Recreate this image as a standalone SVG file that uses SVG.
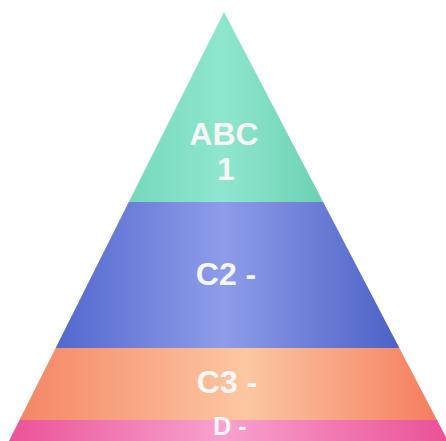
<svg xmlns="http://www.w3.org/2000/svg" width="446" height="441" viewBox="0 0 446 441">
<defs>
<clipPath id="pyr"><polygon points="224,12 9,441 448,441"/></clipPath>
<linearGradient id="gTeal" x1="0" y1="0" x2="1" y2="0">
<stop offset="0" stop-color="#4fc7a3"/><stop offset="0.5" stop-color="#8fe6cf"/><stop offset="1" stop-color="#3fb890"/>
</linearGradient>
<linearGradient id="gBlue" x1="0" y1="0" x2="1" y2="0">
<stop offset="0" stop-color="#3d57c4"/><stop offset="0.5" stop-color="#8e9ce9"/><stop offset="1" stop-color="#3a52bc"/>
</linearGradient>
<linearGradient id="gOrange" x1="0" y1="0" x2="1" y2="0">
<stop offset="0" stop-color="#f4805f"/><stop offset="0.55" stop-color="#fcc7a2"/><stop offset="1" stop-color="#f47a5c"/>
</linearGradient>
<linearGradient id="gPink" x1="0" y1="0" x2="1" y2="0">
<stop offset="0" stop-color="#ea4f95"/><stop offset="0.5" stop-color="#f7a2cf"/><stop offset="1" stop-color="#ea5196"/>
</linearGradient>
<style>
.lbl{font-family:"Liberation Sans",Arial,sans-serif;font-weight:bold;font-size:32px;fill:#f6f6f6;text-anchor:middle}
.sm{font-size:25px}
</style>
</defs>
<rect width="446" height="441" fill="#ffffff"/>
<g clip-path="url(#pyr)">
<g id="tier1"><rect x="0" y="0" width="446" height="202" fill="url(#gTeal)"/></g>
<g id="tier2"><rect x="0" y="202" width="446" height="146" fill="url(#gBlue)"/></g>
<g id="tier3"><rect x="0" y="348" width="446" height="72" fill="url(#gOrange)"/></g>
<g id="tier4"><rect x="0" y="420" width="446" height="21" fill="url(#gPink)"/></g>
</g>
<g id="labels">
<text class="lbl" x="224" y="145">ABC</text>
<text class="lbl" x="226" y="180">1</text>
<text class="lbl" x="226" y="285">C2 -</text>
<text class="lbl" x="227" y="393">C3 -</text>
<text class="lbl sm" x="230" y="435">D -</text>
</g>
</svg>
